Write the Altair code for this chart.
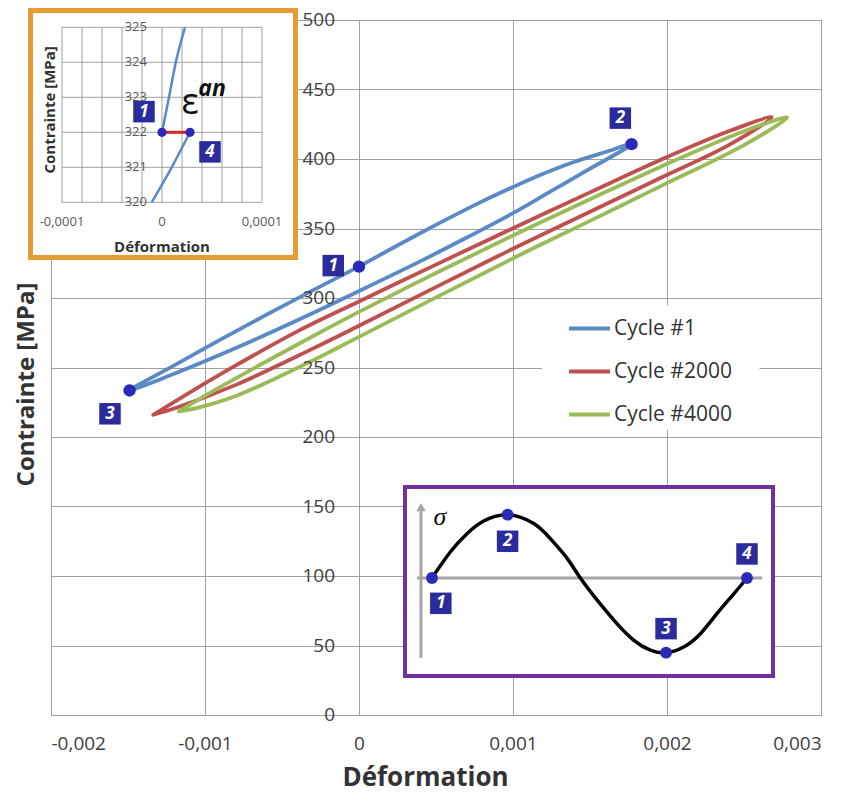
import altair as alt
import pandas as pd

FONT = "Open Sans"
TEXT_DARK = "#333333"
LABEL_GRAY = "#404040"
GRID = "#A0A0A0"
BOX_BLUE = "#2B2B9C"
DOT_BLUE = "#2A2AB8"

# ---------------- main chart ----------------
X_TICKS = [-0.002, -0.001, 0, 0.001, 0.002, 0.003]
X_TICK_LABELS = ["-0,002", "-0,001", "0", "0,001", "0,002", "0,003"]
Y_TICKS = [0, 50, 100, 150, 200, 250, 300, 350, 400, 450, 500]

SERIES = ["Cycle #1", "Cycle #2000", "Cycle #4000"]
SERIES_COLORS = ["#5A8AC6", "#C0504D", "#9BBB59"]

CYCLE1_X = [0, 0.0004, 0.0008, 0.001, 0.0012, 0.0014, 0.0016, 0.00177,
            0.0015, 0.00125, 0.001, 0.0007, 0.0004, 0, -0.0004, -0.0008, -0.0012, -0.00149,
            -0.0012, -0.0009, -0.0006, -0.0003, 0]
CYCLE1_Y = [322.6, 346.8, 369.5, 379.8, 389.5, 398, 405, 410.7,
            393, 377, 361, 343.5, 326.5, 305, 284, 264, 245.5, 233.5,
            251.5, 270, 288, 305.5, 322.6]

CYCLE2000_X = [-0.001336, -0.0011, -0.0008, -0.0004, 0, 0.0005, 0.0009, 0.0015, 0.00196, 0.0024, 0.00268,
               0.0024, 0.00196, 0.0015, 0.0009, 0, -0.00032, -0.0008, -0.0012, -0.001336]
CYCLE2000_Y = [216, 232, 251.5, 276, 297.5, 324, 345, 376, 399.5, 420, 430,
               410, 386.5, 362, 330, 280, 262.5, 237.5, 220.5, 216]

CYCLE4000_X = [-0.00117, -0.0009, -0.0006, -0.0003, 0, 0.0005, 0.001, 0.0015, 0.00196, 0.0025, 0.00278,
               0.0025, 0.00196, 0.0015, 0.001, 0, -0.00032, -0.0008, -0.00105, -0.00117]
CYCLE4000_Y = [218.5, 236, 254.5, 272.5, 290, 318, 345, 371, 394.5, 420, 429.8,
               410, 380.5, 355.5, 328.5, 272, 254, 229.5, 221, 218.5]

POINT_X = [0, 0.00177, -0.00149]
POINT_Y = [322.6, 410.7, 233.5]
POINT_LABELS = ["1", "2", "3"]
POINT_LABEL_X = [-0.000167, 0.001697, -0.001617]
POINT_LABEL_Y = [323.3, 429.4, 216.7]

LEGEND_BOX_X = [0.00119, 0.0026]
LEGEND_BOX_Y = [205, 294.5]

# ---------------- inset 1 (zoom around point 1 / 4) ----------------
IN1_GRID_X = [-0.0001, -0.00008, -0.00006, -0.00004, -0.00002, 0,
              0.00002, 0.00004, 0.00006, 0.00008, 0.0001]
IN1_GRID_Y = [320, 321, 322, 323, 324, 325]
IN1_X_TICKS = [-0.0001, 0, 0.0001]
IN1_X_LABELS = ["-0,0001", "0", "0,0001"]
IN1_UP_X = [0, 0.000007, 0.0000138, 0.000023]
IN1_UP_Y = [322, 323, 324, 325]
IN1_LO_X = [-0.0000103, 0.0000097, 0.000028]
IN1_LO_Y = [320, 321, 322]
IN1_DOT_X = [0, 0.000028]
IN1_DOT_Y = [322, 322]
IN1_LABELS = ["1", "4"]
IN1_LABEL_X = [-0.000018, 0.000048]
IN1_LABEL_Y = [322.59, 321.44]
IN1_FRAME_X = [-0.0001315, 0.0001335]
IN1_FRAME_Y = [318.42, 325.48]
IN1_XDOM = [-0.000111, 0.000659]
IN1_YDOM = [305.3515, 325.2086]

# ---------------- inset 2 (loading signal) ----------------
IN2_T = [0, 0.058, 0.111, 0.164, 0.240, 0.323, 0.376, 0.429, 0.471, 0.534,
         0.587, 0.640, 0.693, 0.743, 0.799, 0.852, 0.905, 0.958, 1.0]
IN2_S = [0, 0.41, 0.70, 0.90, 1.0, 0.86, 0.62, 0.31, 0, -0.41,
         -0.72, -0.98, -1.14, -1.18, -1.09, -0.88, -0.56, -0.25, 0]
IN2_DOT_T = [0, 0.240, 0.743, 1.0]
IN2_DOT_S = [0, 1.0, -1.18, 0]
IN2_LABELS = ["1", "2", "3", "4"]
IN2_LABEL_T = [0.028, 0.240, 0.743, 1.0]
IN2_LABEL_S = [-0.40, 0.58, -0.80, 0.38]
IN2_FRAME_X = [-0.0857, 1.0825]
IN2_FRAME_Y = [-1.548, 1.4376]
IN2_XDOM = [-1.2095, 1.2349]
IN2_YDOM = [-2.1643, 8.8152]

# ======================================================
rows = []
for name, xs, ys in zip(SERIES, [CYCLE1_X, CYCLE2000_X, CYCLE4000_X],
                        [CYCLE1_Y, CYCLE2000_Y, CYCLE4000_Y]):
    for i, (a, b) in enumerate(zip(xs, ys)):
        rows.append({"series": name, "seq": i, "x": a, "y": b})
lines_df = pd.DataFrame(rows)
points_df = pd.DataFrame({"x": POINT_X, "y": POINT_Y})
plabels_df = pd.DataFrame({"x": POINT_LABEL_X, "y": POINT_LABEL_Y, "t": POINT_LABELS})
ylab_df = pd.DataFrame({"x": [0] * len(Y_TICKS), "y": Y_TICKS, "t": [str(v) for v in Y_TICKS]})
lbox_df = pd.DataFrame({"x": [LEGEND_BOX_X[0]], "x2": [LEGEND_BOX_X[1]],
                        "y": [LEGEND_BOX_Y[0]], "y2": [LEGEND_BOX_Y[1]]})

label_expr = ("[" + ",".join("'%s'" % s for s in X_TICK_LABELS) + "][indexof(["
              + ",".join(repr(v) for v in X_TICKS) + "], datum.value)]")

xs_main = alt.Scale(domain=[-0.002, 0.003], nice=False, zero=False)
ys_main = alt.Scale(domain=[0, 500], nice=False, zero=False)
x_axis = alt.Axis(values=X_TICKS, labelExpr=label_expr, grid=True, ticks=False, domain=False,
                  labelFont=FONT, labelFontSize=19, labelColor=LABEL_GRAY, labelPadding=19,
                  gridColor=GRID, gridWidth=1, title="Déformation", titleFont=FONT,
                  titleFontSize=26, titleFontWeight="bold", titleColor=TEXT_DARK,
                  titleX=374, titleY=62, titleAlign="center", titleBaseline="middle")
y_axis = alt.Axis(values=Y_TICKS, labels=False, ticks=False, domain=False, grid=True,
                  gridColor=GRID, gridWidth=1, title="Contrainte [MPa]", titleFont=FONT,
                  titleFontSize=24, titleFontWeight="bold", titleColor=TEXT_DARK,
                  titleX=-25, titleY=364, titleAngle=270, titleAlign="center",
                  titleBaseline="middle")


def mx(f="x:Q"):
    return alt.X(f, scale=xs_main, axis=x_axis)


def my(f="y:Q"):
    return alt.Y(f, scale=ys_main, axis=y_axis)


legend_box = alt.Chart(lbox_df).mark_rect(fill="white").encode(
    x=mx(), x2="x2:Q", y=my(), y2="y2:Q")

lines = alt.Chart(lines_df).mark_line(
    strokeWidth=3.8, interpolate="catmull-rom", strokeCap="round", strokeJoin="round"
).encode(
    x=mx(), y=my(), order=alt.Order("seq:Q"),
    color=alt.Color("series:N", scale=alt.Scale(domain=SERIES, range=SERIES_COLORS),
                    legend=alt.Legend(title=None, orient="none", legendX=516, legendY=286,
                                      symbolType="stroke", symbolStrokeWidth=4,
                                      symbolSize=1681, labelFont=FONT, labelFontSize=21,
                                      labelColor=TEXT_DARK, labelOffset=2, rowPadding=10,
                                      padding=0)))

dots = alt.Chart(points_df).mark_circle(size=154, color=DOT_BLUE, opacity=1).encode(
    x=mx(), y=my())
squares = alt.Chart(plabels_df).mark_square(size=462, color=BOX_BLUE, opacity=1).encode(
    x=mx(), y=my())
sq_text = alt.Chart(plabels_df).mark_text(
    color="white", font=FONT, fontSize=17, fontWeight="bold", fontStyle="italic",
    baseline="middle", align="center").encode(x=mx(), y=my(), text="t:N")
ylabels = alt.Chart(ylab_df).mark_text(
    align="right", baseline="middle", dx=-24, font=FONT, fontSize=19, color=LABEL_GRAY
).encode(x=mx(), y=my(), text="t:N")

main = alt.layer(legend_box, lines, dots, squares, sq_text, ylabels)

# ---------------- inset 1 ----------------
xs1 = alt.Scale(domain=IN1_XDOM, nice=False, zero=False)
ys1 = alt.Scale(domain=IN1_YDOM, nice=False, zero=False)


def ix1(f="x:Q"):
    return alt.X(f, scale=xs1, axis=None)


def iy1(f="y:Q"):
    return alt.Y(f, scale=ys1, axis=None)


ORANGE = "#E69B33"
f1 = pd.DataFrame({"x": [IN1_FRAME_X[0]], "x2": [IN1_FRAME_X[1]],
                   "y": [IN1_FRAME_Y[0]], "y2": [IN1_FRAME_Y[1]]})
frame1 = alt.Chart(f1).mark_rect(fill="white", stroke=ORANGE, strokeWidth=5).encode(
    x=ix1(), x2="x2:Q", y=iy1(), y2="y2:Q")
g1v = pd.DataFrame({"x": IN1_GRID_X, "y": [min(IN1_GRID_Y)] * len(IN1_GRID_X),
                    "y2": [max(IN1_GRID_Y)] * len(IN1_GRID_X)})
g1h = pd.DataFrame({"y": IN1_GRID_Y, "x": [min(IN1_GRID_X)] * len(IN1_GRID_Y),
                    "x2": [max(IN1_GRID_X)] * len(IN1_GRID_Y)})
grid1v = alt.Chart(g1v).mark_rule(color=GRID, strokeWidth=1).encode(
    x=ix1(), y=iy1(), y2="y2:Q")
grid1h = alt.Chart(g1h).mark_rule(color=GRID, strokeWidth=1).encode(
    x=ix1(), x2="x2:Q", y=iy1())
up1 = pd.DataFrame({"x": IN1_UP_X, "y": IN1_UP_Y, "seq": range(len(IN1_UP_X))})
lo1 = pd.DataFrame({"x": IN1_LO_X, "y": IN1_LO_Y, "seq": range(len(IN1_LO_X))})
line_up1 = alt.Chart(up1).mark_line(color=SERIES_COLORS[0], strokeWidth=2.5,
                                    interpolate="monotone").encode(
    x=ix1(), y=iy1(), order="seq:Q")
line_lo1 = alt.Chart(lo1).mark_line(color=SERIES_COLORS[0], strokeWidth=2.5,
                                    interpolate="monotone").encode(
    x=ix1(), y=iy1(), order="seq:Q")
d1 = pd.DataFrame({"x": IN1_DOT_X, "y": IN1_DOT_Y})
red_seg = alt.Chart(d1).mark_line(color="#E0201B", strokeWidth=3).encode(x=ix1(), y=iy1())
dots1 = alt.Chart(d1).mark_circle(size=85, color=DOT_BLUE, opacity=1).encode(x=ix1(), y=iy1())
l1 = pd.DataFrame({"x": IN1_LABEL_X, "y": IN1_LABEL_Y, "t": IN1_LABELS})
sq1 = alt.Chart(l1).mark_square(size=462, color=BOX_BLUE, opacity=1).encode(x=ix1(), y=iy1())
sqt1 = alt.Chart(l1).mark_text(color="white", font=FONT, fontSize=17, fontWeight="bold",
                               fontStyle="italic", baseline="middle").encode(
    x=ix1(), y=iy1(), text="t:N")
yl1 = pd.DataFrame({"x": [0] * len(IN1_GRID_Y), "y": IN1_GRID_Y,
                    "t": [str(v) for v in IN1_GRID_Y]})
ylab1 = alt.Chart(yl1).mark_text(align="right", baseline="middle", dx=-15, font=FONT,
                                 fontSize=13, color="#595959").encode(
    x=ix1(), y=iy1(), text="t:N")
xl1 = pd.DataFrame({"x": IN1_X_TICKS, "y": [min(IN1_GRID_Y)] * len(IN1_X_TICKS),
                    "t": IN1_X_LABELS})
xlab1 = alt.Chart(xl1).mark_text(align="center", baseline="middle", dy=20, font=FONT,
                                 fontSize=13, color="#595959").encode(
    x=ix1(), y=iy1(), text="t:N")
tt1 = pd.DataFrame({"x": [0, -0.000112], "y": [318.72, 322.64],
                    "t": ["Déformation", "Contrainte [MPa]"]})
xtitle1 = alt.Chart(tt1.iloc[[0]]).mark_text(font=FONT, fontSize=15, fontWeight="bold",
                                              color=TEXT_DARK, baseline="middle").encode(
    x=ix1(), y=iy1(), text="t:N")
ytitle1 = alt.Chart(tt1.iloc[[1]]).mark_text(font=FONT, fontSize=15, fontWeight="bold",
                                              color=TEXT_DARK, baseline="middle",
                                              angle=270).encode(
    x=ix1(), y=iy1(), text="t:N")
eps_df = pd.DataFrame({"x": [0.000028], "y": [322.83], "t": ["ε"]})
an_df = pd.DataFrame({"x": [0.00005], "y": [323.25], "t": ["an"]})
eps = alt.Chart(eps_df).mark_text(font=FONT, fontSize=36, color="#111111",
                                  baseline="middle").encode(x=ix1(), y=iy1(), text="t:N")
an = alt.Chart(an_df).mark_text(font=FONT, fontSize=23, fontWeight="bold", fontStyle="italic",
                                color="#111111", baseline="middle").encode(
    x=ix1(), y=iy1(), text="t:N")

inset1 = alt.layer(frame1, grid1v, grid1h, line_up1, line_lo1, red_seg, dots1, sq1, sqt1,
                   ylab1, xlab1, xtitle1, ytitle1, eps, an)

# ---------------- inset 2 ----------------
xs2 = alt.Scale(domain=IN2_XDOM, nice=False, zero=False)
ys2 = alt.Scale(domain=IN2_YDOM, nice=False, zero=False)


def ix2(f="x:Q"):
    return alt.X(f, scale=xs2, axis=None)


def iy2(f="y:Q"):
    return alt.Y(f, scale=ys2, axis=None)


PURPLE = "#7030A0"
AX_GRAY = "#A6A6A6"
f2 = pd.DataFrame({"x": [IN2_FRAME_X[0]], "x2": [IN2_FRAME_X[1]],
                   "y": [IN2_FRAME_Y[0]], "y2": [IN2_FRAME_Y[1]]})
frame2 = alt.Chart(f2).mark_rect(fill="white", stroke=PURPLE, strokeWidth=4).encode(
    x=ix2(), x2="x2:Q", y=iy2(), y2="y2:Q")
hax = alt.Chart(pd.DataFrame({"x": [-0.048], "x2": [1.048], "y": [0]})).mark_rule(
    color=AX_GRAY, strokeWidth=3).encode(x=ix2(), x2="x2:Q", y=iy2())
vax = alt.Chart(pd.DataFrame({"x": [-0.035], "y": [-1.26], "y2": [1.1]})).mark_rule(
    color=AX_GRAY, strokeWidth=3).encode(x=ix2(), y=iy2(), y2="y2:Q")
arrow = alt.Chart(pd.DataFrame({"x": [-0.035], "y": [1.12]})).mark_point(
    shape="triangle-up", filled=True, size=90, color=AX_GRAY, opacity=1).encode(
    x=ix2(), y=iy2())
sig_df = pd.DataFrame({"x": IN2_T, "y": IN2_S, "seq": range(len(IN2_T))})
sine = alt.Chart(sig_df).mark_line(color="black", strokeWidth=3.5,
                                   interpolate="natural").encode(
    x=ix2(), y=iy2(), order="seq:Q")
d2 = pd.DataFrame({"x": IN2_DOT_T, "y": IN2_DOT_S})
dots2 = alt.Chart(d2).mark_circle(size=140, color=DOT_BLUE, opacity=1).encode(x=ix2(), y=iy2())
l2 = pd.DataFrame({"x": IN2_LABEL_T, "y": IN2_LABEL_S, "t": IN2_LABELS})
sq2 = alt.Chart(l2).mark_square(size=462, color=BOX_BLUE, opacity=1).encode(x=ix2(), y=iy2())
sqt2 = alt.Chart(l2).mark_text(color="white", font=FONT, fontSize=17, fontWeight="bold",
                               fontStyle="italic", baseline="middle").encode(
    x=ix2(), y=iy2(), text="t:N")
sigma = alt.Chart(pd.DataFrame({"x": [0.0254], "y": [0.968], "t": ["σ"]})).mark_text(
    font="Liberation Serif", fontSize=26, fontStyle="italic", color="#111111",
    baseline="middle").encode(x=ix2(), y=iy2(), text="t:N")

inset2 = alt.layer(frame2, hax, vax, arrow, sine, dots2, sq2, sqt2, sigma)

chart = alt.layer(main, inset1, inset2).resolve_scale(
    x="independent", y="independent"
).properties(
    width=770, height=695,
    autosize=alt.AutoSizeParams(type="none"),
    padding={"left": 43, "top": 12, "right": 19, "bottom": 78},
    background="white",
).configure_view(stroke=None)

chart.save("out.html", embed_options={"renderer": "svg", "actions": False})
